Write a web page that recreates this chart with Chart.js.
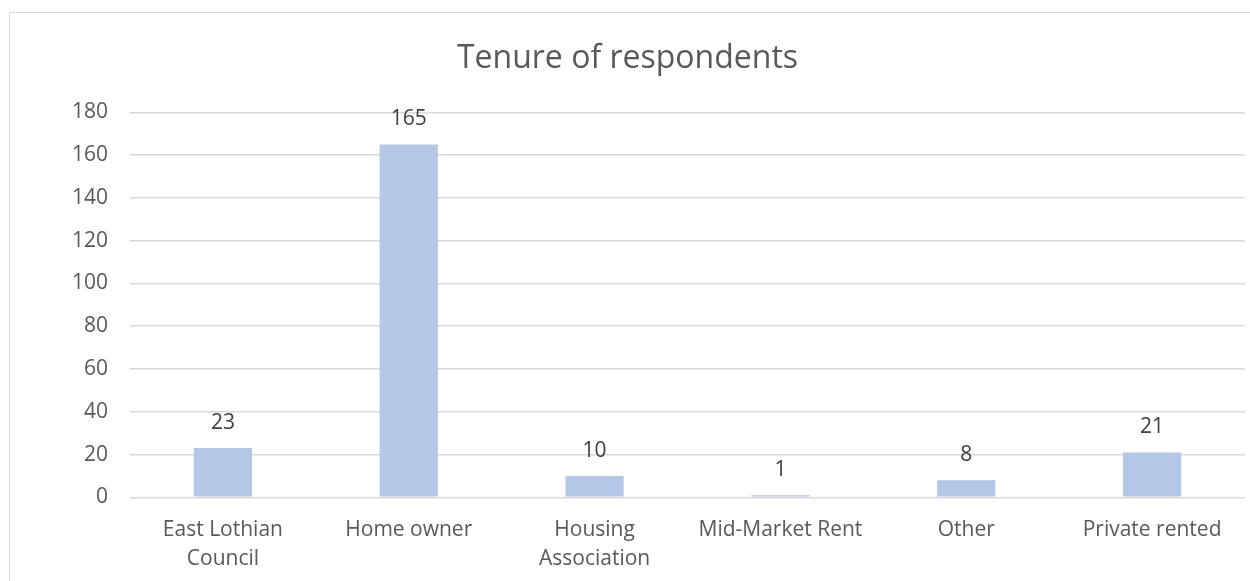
<!DOCTYPE html>
<html>
<head>
<meta charset="utf-8">
<title>Tenure of respondents</title>
<script src="https://cdn.jsdelivr.net/npm/chart.js@4/dist/chart.umd.min.js"></script>
<style>
  html, body { margin: 0; padding: 0; background: #fff; overflow: hidden; }
  #box {
    position: absolute; left: 9px; top: 12px;
    width: 1254px; height: 600px;
    border: 1px solid #d9d9d9; background: #fff;
  }
  #box canvas { display: block; }
</style>
</head>
<body>
<div id="box"><canvas id="tenureChart" width="1254" height="600"></canvas></div>
<script>
// Tenure categories and respondent counts
var categories = [['East Lothian', 'Council'], 'Home owner', ['Housing', 'Association'], 'Mid-Market Rent', 'Other', 'Private rented'];
var counts = [23, 165, 10, 1, 8, 21];
var yTicks = [0, 20, 40, 60, 80, 100, 120, 140, 160, 180];

var fontFamily = '"Open Sans", "Liberation Sans", sans-serif';

// writes the value over each bar
var valueLabels = {
  id: 'valueLabels',
  afterDatasetsDraw: function (chart) {
    var ctx = chart.ctx;
    var meta = chart.getDatasetMeta(0);
    ctx.save();
    ctx.font = '21px ' + fontFamily;
    ctx.fillStyle = '#404040';
    ctx.textAlign = 'center';
    ctx.textBaseline = 'alphabetic';
    meta.data.forEach(function (bar, i) {
      ctx.fillText(String(chart.data.datasets[0].data[i]), bar.x, bar.y - 19);
    });
    ctx.restore();
  }
};

new Chart('tenureChart', {
  type: 'bar',
  data: {
    labels: categories,
    datasets: [{
      data: counts,
      backgroundColor: '#b4c7e7',
      borderWidth: 0,
      barPercentage: 0.313,
      categoryPercentage: 1
    }]
  },
  options: {
    responsive: false,
    animation: false,
    layout: { padding: { left: 0, right: 19, top: 0, bottom: 29 } },
    plugins: {
      legend: { display: false },
      tooltip: { enabled: false },
      title: {
        display: true,
        text: 'Tenure of respondents',
        color: '#595959',
        font: { family: fontFamily, size: 32, weight: 'normal', lineHeight: 1.2 },
        padding: { top: 27, bottom: 34 }
      }
    },
    scales: {
      x: {
        grid: { display: false },
        border: { display: false },
        ticks: {
          color: '#595959',
          font: { family: fontFamily, size: 21, lineHeight: 1.35 },
          padding: 11,
          maxRotation: 0,
          autoSkip: false
        }
      },
      y: {
        min: 0,
        max: 180,
        afterFit: function (scale) { scale.width = 120; },
        afterBuildTicks: function (scale) {
          scale.ticks = yTicks.map(function (v) { return { value: v }; });
        },
        grid: { color: '#d9d9d9', lineWidth: 1.5, drawTicks: false },
        border: { display: false },
        ticks: {
          color: '#595959',
          font: { family: fontFamily, size: 21 },
          padding: 22
        }
      }
    }
  },
  plugins: [valueLabels]
});
</script>
</body>
</html>
